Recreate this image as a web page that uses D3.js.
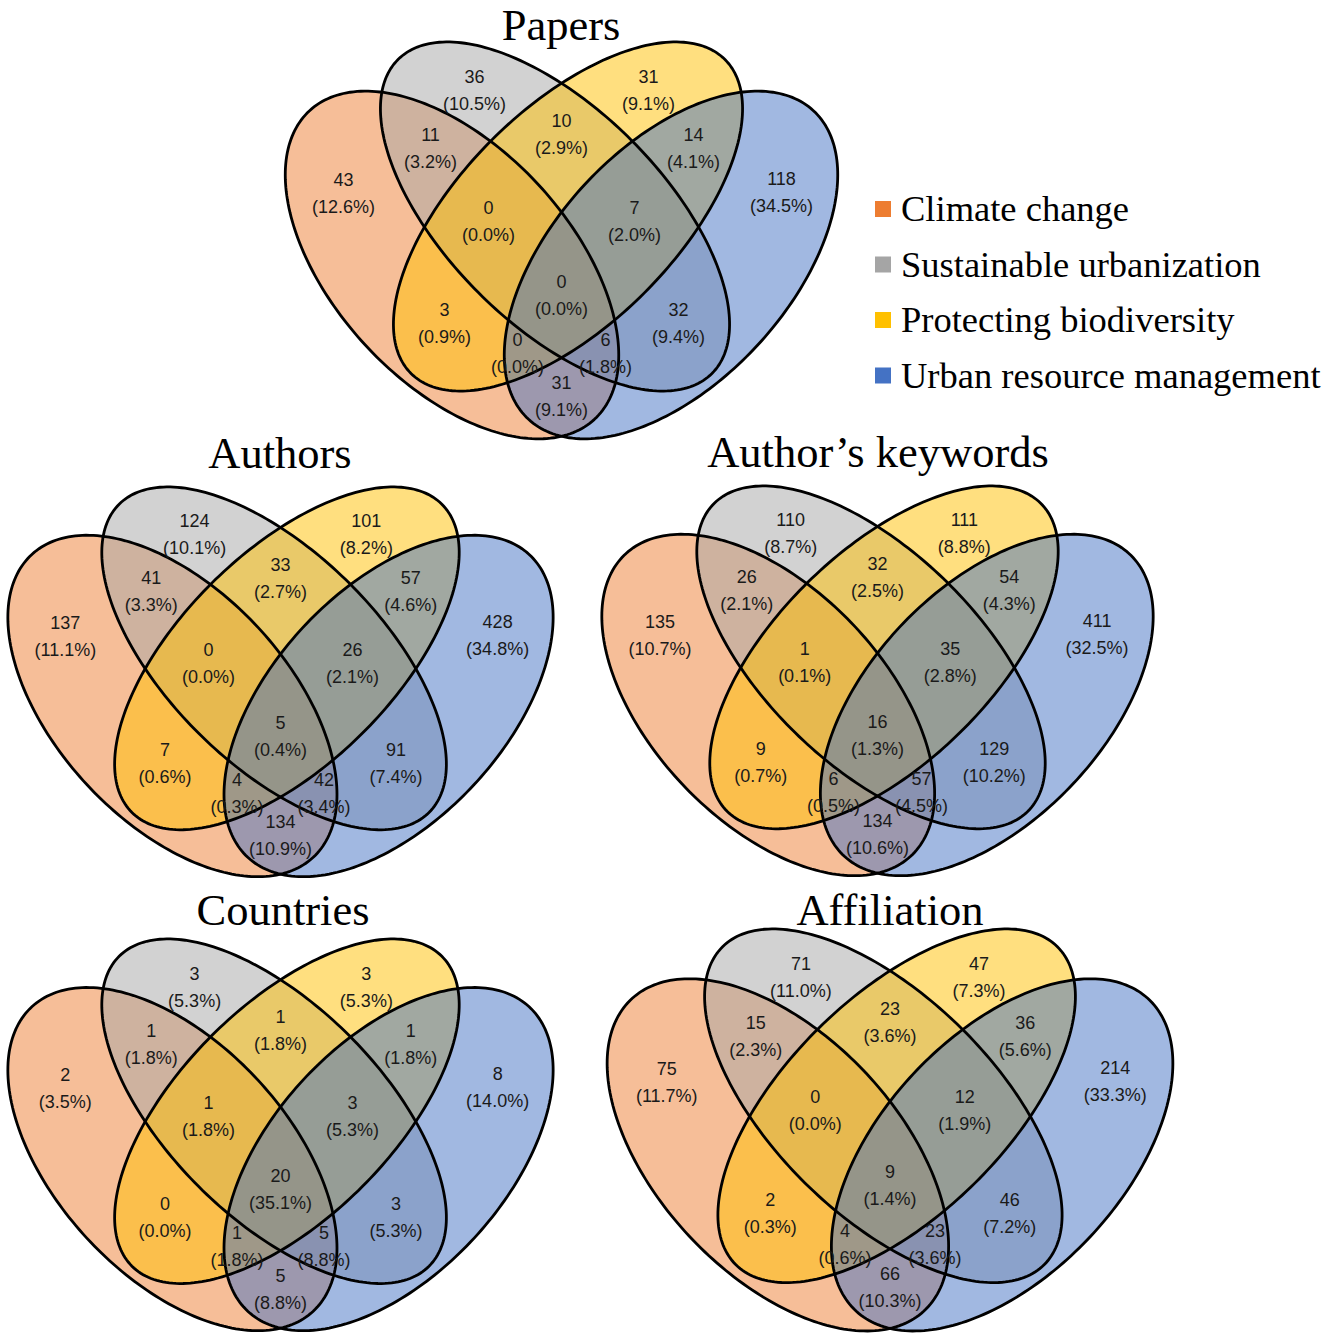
<!DOCTYPE html>
<html>
<head>
<meta charset="utf-8">
<script src="https://cdn.jsdelivr.net/npm/d3@7"></script>
<style>
  body { margin: 0; background: #fff; }
  svg { display: block; }
</style>
</head>
<body>
<div class="chart"></div>
<script>
// sets, in drawing order
var setNames = ["Climate change", "Sustainable urbanization", "Protecting biodiversity", "Urban resource management"];
var setColors = ["#ED7D31", "#A5A5A5", "#FFC000", "#4472C4"];

// region keys: O=climate, G=urbanization, Y=biodiversity, B=resource
var regionKeys = ["O", "G", "Y", "B", "OG", "GY", "YB", "OGY", "GYB", "OGYB", "OY", "GB", "OYB", "OGB", "OB"];

var panelTitles = ["Papers", "Authors", "Author\u2019s keywords", "Countries", "Affiliation"];
var papers      = [43, 36, 31, 118, 11, 10, 14, 0, 7, 0, 3, 32, 0, 6, 31];
var authors     = [137, 124, 101, 428, 41, 33, 57, 0, 26, 5, 7, 91, 4, 42, 134];
var keywords    = [135, 110, 111, 411, 26, 32, 54, 1, 35, 16, 9, 129, 6, 57, 134];
var countries   = [2, 3, 3, 8, 1, 1, 1, 1, 3, 20, 0, 3, 1, 5, 5];
var affiliation = [75, 71, 47, 214, 15, 23, 36, 0, 12, 9, 2, 46, 4, 23, 66];
var panelValues = [papers, authors, keywords, countries, affiliation];

var width = 1325, height = 1344;

// base layout (units relative to the symmetry axis and the top of the diagram)
var ellipses = [
    {cx: -109.5, cy: 223, a: 210, b: 118, rot: 47.3},
    {cx: -6.5, cy: 174.5, a: 222, b: 108, rot: 45},
    {cx: 6.5, cy: 174.5, a: 222, b: 108, rot: -45},
    {cx: 109.5, cy: 223, a: 210, b: 118, rot: -47.3}
];
var labelPos = {
    O: [-218, 138], G: [-87, 35], Y: [87, 35], B: [220, 137],
    OG: [-131, 93], GY: [0, 79], YB: [132, 93],
    OGY: [-73, 166], GYB: [73, 166], OGYB: [0, 240],
    OY: [-117, 268], GB: [117, 268],
    OYB: [-44, 298], OGB: [44, 298], OB: [0, 341]
};
var panels = [
    {cx: 561.5, top: 42, sx: 1, sy: 1, titleX: 561, titleY: 40},
    {cx: 280.5, top: 487, sx: 0.987, sy: 0.982, titleX: 280, titleY: 468},
    {cx: 877.5, top: 486, sx: 0.998, sy: 0.982, titleX: 878, titleY: 467},
    {cx: 280.5, top: 939, sx: 0.987, sy: 0.987, titleX: 283, titleY: 925},
    {cx: 890, top: 929, sx: 1.024, sy: 1.013, titleX: 890, titleY: 925}
];

var svg = d3.select(".chart").append("svg")
    .attr("width", width)
    .attr("height", height);
svg.append("rect").attr("width", width).attr("height", height).attr("fill", "#fff");

var pct = d3.format(".1%");

panels.forEach(function (p, i) {
    var x = d3.scaleLinear().domain([-276, 276]).range([p.cx - 276 * p.sx, p.cx + 276 * p.sx]);
    var y = d3.scaleLinear().domain([0, 397]).range([p.top, p.top + 397 * p.sy]);
    var g = svg.append("g");

    var line = d3.line()
        .x(function (d) { return x(d[0]); })
        .y(function (d) { return y(d[1]); })
        .curve(d3.curveLinearClosed);

    function ellipsePts(e) {
        var r = e.rot * Math.PI / 180, c = Math.cos(r), s = Math.sin(r);
        return d3.range(0, 2 * Math.PI, Math.PI / 120).map(function (t) {
            var u = e.a * Math.cos(t), v = e.b * Math.sin(t);
            return [e.cx + u * c - v * s, e.cy + u * s + v * c];
        });
    }

    g.selectAll("path.fill")
        .data(ellipses)
        .enter().append("path")
        .attr("class", "fill")
        .attr("d", function (e) { return line(ellipsePts(e)); })
        .attr("fill", function (e, k) { return setColors[k]; })
        .attr("fill-opacity", 0.5)
        .attr("stroke", "none");

    g.selectAll("path.edge")
        .data(ellipses)
        .enter().append("path")
        .attr("class", "edge")
        .attr("d", function (e) { return line(ellipsePts(e)); })
        .attr("fill", "none")
        .attr("stroke", "#000")
        .attr("stroke-width", 2.8);

    var vals = panelValues[i];
    var total = d3.sum(vals);
    var lab = g.selectAll("text.lab")
        .data(regionKeys)
        .enter().append("text")
        .attr("class", "lab")
        .attr("text-anchor", "middle")
        .attr("font-family", "'Liberation Sans', Arial, sans-serif")
        .attr("font-size", 18)
        .attr("fill", "#1a1a1a");
    lab.append("tspan")
        .attr("x", function (k) { return x(labelPos[k][0]); })
        .attr("y", function (k) { return y(labelPos[k][1]) + 6; })
        .text(function (k, j) { return vals[j]; });
    lab.append("tspan")
        .attr("x", function (k) { return x(labelPos[k][0]); })
        .attr("y", function (k) { return y(labelPos[k][1]) + 33; })
        .text(function (k, j) { return "(" + pct(vals[j] / total) + ")"; });

    svg.append("text")
        .attr("x", p.titleX)
        .attr("y", p.titleY)
        .attr("text-anchor", "middle")
        .attr("font-family", "'Liberation Serif', 'Times New Roman', serif")
        .attr("font-size", 44.5)
        .attr("fill", "#000")
        .text(panelTitles[i]);
});

// legend
var legend = svg.append("g").attr("transform", "translate(875,201)");
var row = legend.selectAll("g")
    .data(setNames)
    .enter().append("g")
    .attr("transform", function (d, k) { return "translate(0," + (k * 55.5) + ")"; });
row.append("rect")
    .attr("width", 16).attr("height", 16)
    .attr("fill", function (d, k) { return setColors[k]; });
row.append("text")
    .attr("x", 26)
    .attr("y", 20)
    .attr("font-family", "'Liberation Serif', 'Times New Roman', serif")
    .attr("font-size", 36.5)
    .attr("fill", "#000")
    .text(function (d) { return d; });
</script>
</body>
</html>
